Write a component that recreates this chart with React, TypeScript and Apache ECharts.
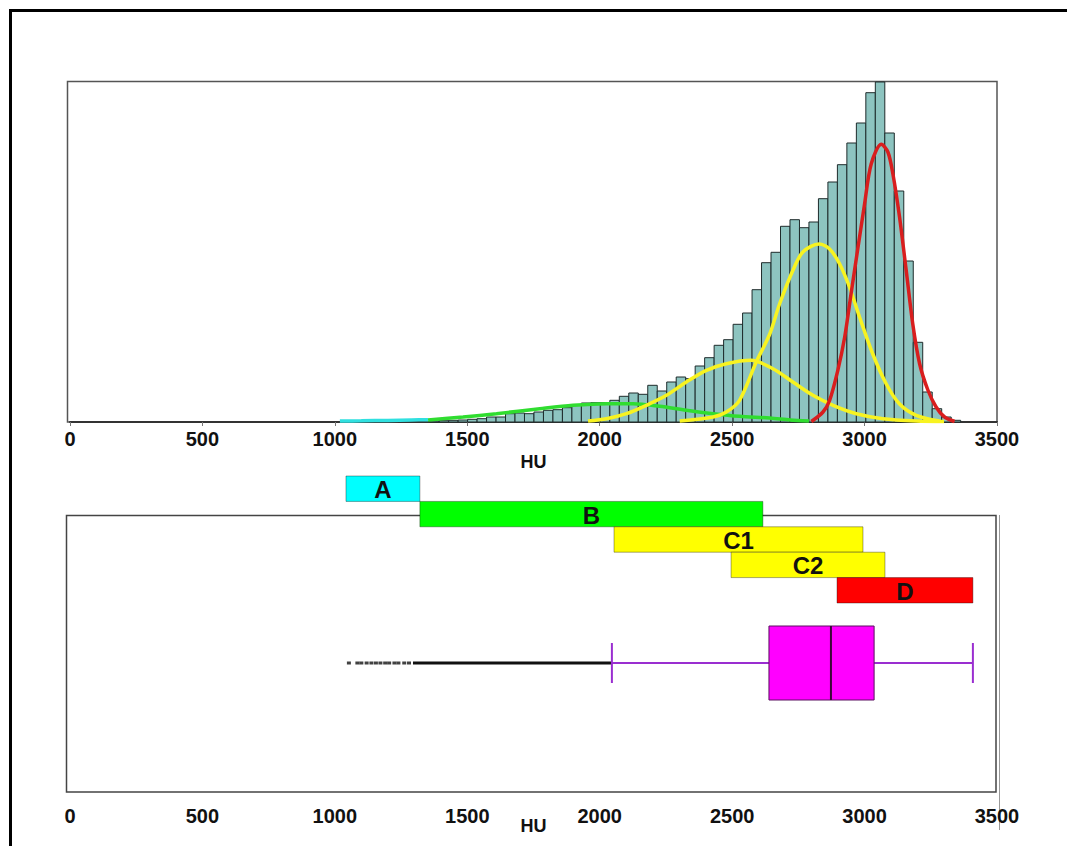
import React, { useEffect, useRef } from "react";
import * as echarts from "echarts";

// ---------- data ----------
const huTicks = [0, 500, 1000, 1500, 2000, 2500, 3000, 3500];
const histBinStart = 1358;
const histBinWidth = 35.8;
const histCounts = [
  1, 1.3, 1.7, 2, 2.7, 3.3, 5, 5, 8.3, 9, 8.3, 10,
  11.7, 12.3, 14.3, 16.7, 19, 19.3, 19.3, 21.7, 25.7, 29, 27.7, 36.7, 31, 40, 45, 43.3,
  56, 64.3, 76.7, 82.3, 97.7, 109, 132.3, 159.3, 169.7, 195.7, 202.3, 194.3, 200, 223.3,
  240, 257.3, 279, 299, 329.3, 365, 289, 231, 161, 79.7, 30, 13.3, 5, 1.7,
];
const cyanCurve = [[1019, 1], [1100, 1.2], [1200, 1.6], [1290, 2], [1352, 2.3]];
const greenCurve = [
  [1352, 2], [1484, 5], [1610, 8.3], [1774, 13.3], [1899, 16.7], [2025, 18.3],
  [2126, 18.3], [2226, 15.7], [2327, 11.7], [2428, 8.3], [2528, 5.7], [2642, 4], [2720, 2], [2790, 1],
];
const yellowC1Curve = [
  [1956, 1], [2025, 3.3], [2101, 8.3], [2176, 16.7], [2252, 26.7], [2327, 40], [2403, 51.7],
  [2478, 58.3], [2572, 61.7], [2654, 53.3], [2729, 40], [2805, 26.7], [2881, 16.7],
  [2969, 8.3], [3069, 3.3], [3195, 1], [3300, 0.5],
];
const yellowC2Curve = [
  [2302, 1], [2428, 5], [2478, 10], [2528, 21.7], [2591, 60], [2642, 88],
  [2679, 118], [2730, 152], [2767, 170], [2828, 178], [2868, 173], [2906, 158], [2943, 135],
  [2981, 105], [3031, 68], [3082, 38], [3132, 18], [3195, 6.7], [3283, 1],
];
const redCurve = [
  [2799, 0.5], [2843, 10], [2868, 21.7], [2899, 51.7], [2925, 85], [2950, 130],
  [3000, 218], [3025, 258], [3063, 277.7], [3088, 270], [3107, 248], [3132, 205],
  [3157, 152], [3182, 98], [3208, 58], [3239, 32], [3270, 15], [3302, 5], [3340, 0.5],
];
const rangeNames = ["A", "B", "C1", "C2", "D"];
const rangeStarts = [1042, 1321, 2054, 2496, 2896];
const rangeEnds = [1321, 2616, 2994, 3077, 3409];
// lower whisker, Q1, median, Q3, upper whisker
const boxStats = [2046, 2639, 2873, 3036, 3409];
const outliers = [1053, 1085, 1100, 1120, 1138, 1155, 1172, 1190, 1205, 1225, 1240, 1262, 1280];
const denseOutlierRun = [1295, 2046];

// ---------- styles ----------
const rangeColors = ["#00ffff", "#00ff00", "#ffff00", "#ffff00", "#ff0000"];
const FONT = '"Liberation Sans", Arial, sans-serif';
const labelStyle = { fontSize: 20, fontWeight: "bold", fontFamily: FONT, color: "#111" };

export default function App() {
  const ref = useRef<HTMLDivElement>(null);
  useEffect(() => {
    if (!ref.current) return;
    const chart = echarts.init(ref.current, undefined, { renderer: "svg" });

    const histData = histCounts.map((c, i) => [
      histBinStart + i * histBinWidth,
      histBinStart + (i + 1) * histBinWidth,
      c,
    ]);
    const rangeData = rangeNames.map((n, i) => [rangeStarts[i], rangeEnds[i], i, n]);

    const curve = (data: number[][], color: string) => ({
      type: "line",
      xAxisIndex: 0,
      yAxisIndex: 0,
      data,
      smooth: 0.3,
      symbol: "none",
      z: 3,
      lineStyle: { color, width: 3.5 },
    });

    const xBase = {
      type: "value",
      min: huTicks[0],
      max: huTicks[huTicks.length - 1],
      interval: huTicks[1] - huTicks[0],
      splitLine: { show: false },
    };
    const fmt = (v: number) => String(v);

    chart.setOption({
      animation: false,
      backgroundColor: "#fff",
      grid: [
        { left: 70, top: 82, width: 927, height: 340 },
        { left: 70, top: 476, width: 927, height: 127 },
        { left: 70, top: 603, width: 927, height: 120 },
        { left: 70, top: 515, width: 927, height: 277 },
      ],
      xAxis: [
        {
          ...xBase,
          gridIndex: 0,
          name: "HU",
          nameLocation: "middle",
          nameGap: 31,
          nameMoveOverlap: false,
          nameTextStyle: { ...labelStyle, fontSize: 18 },
          axisLine: { show: true, lineStyle: { color: "#333", width: 2 } },
          axisTick: { show: true, length: 4, lineStyle: { color: "#777" } },
          axisLabel: { ...labelStyle, margin: 7, formatter: fmt },
        },
        { ...xBase, gridIndex: 1, show: false },
        { ...xBase, gridIndex: 2, show: false },
        {
          ...xBase,
          gridIndex: 3,
          name: "HU",
          nameLocation: "middle",
          nameGap: 25,
          nameMoveOverlap: false,
          nameTextStyle: { ...labelStyle, fontSize: 18 },
          axisLine: { show: false },
          axisTick: { show: false },
          axisLabel: { ...labelStyle, margin: 14, formatter: fmt },
        },
      ],
      yAxis: [
        { gridIndex: 0, type: "value", min: 0, max: 340, show: false },
        { gridIndex: 1, type: "category", data: rangeNames, inverse: true, show: false },
        { gridIndex: 2, type: "category", data: ["box"], show: false },
        { gridIndex: 3, type: "value", min: 0, max: 1, show: false },
      ],
      graphic: [
        {
          type: "rect",
          z: 0,
          shape: { x: 67.5, y: 81.5, width: 929.5, height: 340.5 },
          style: { fill: "transparent", stroke: "#555", lineWidth: 1.5 },
        },
        {
          type: "rect",
          z: 0,
          shape: { x: 66.5, y: 515.5, width: 929.5, height: 276.5 },
          style: { fill: "transparent", stroke: "#444", lineWidth: 1.5 },
        },
        {
          type: "line",
          shape: { x1: 999.5, y1: 515, x2: 999.5, y2: 830 },
          style: { stroke: "#999", lineWidth: 1 },
        },
        {
          type: "line",
          shape: { x1: 10, y1: 10.5, x2: 1067, y2: 10.5 },
          style: { stroke: "#000", lineWidth: 3 },
        },
        {
          type: "line",
          shape: { x1: 10.5, y1: 9, x2: 10.5, y2: 846 },
          style: { stroke: "#000", lineWidth: 3 },
        },
      ],
      series: [
        {
          type: "custom",
          xAxisIndex: 0,
          yAxisIndex: 0,
          data: histData,
          encode: { x: [0, 1], y: 2 },
          renderItem: (params: any, api: any) => {
            const p0 = api.coord([api.value(0), api.value(2)]);
            const p1 = api.coord([api.value(1), 0]);
            const cs = params.coordSys;
            const shape = echarts.graphic.clipRectByRect(
              { x: p0[0], y: p0[1], width: p1[0] - p0[0], height: p1[1] - p0[1] },
              { x: cs.x, y: cs.y, width: cs.width, height: cs.height }
            );
            return (
              shape && {
                type: "rect",
                shape,
                style: { fill: "#8dc4c0", stroke: "#1e2b2b", lineWidth: 1 },
              }
            );
          },
        },
        curve(cyanCurve, "#30e0e0"),
        curve(greenCurve, "#30dd30"),
        curve(yellowC1Curve, "#f8f320"),
        curve(yellowC2Curve, "#f8f320"),
        curve(redCurve, "#d81e1e"),
        {
          type: "custom",
          xAxisIndex: 1,
          yAxisIndex: 1,
          data: rangeData,
          encode: { x: [0, 1], y: 2 },
          z: 5,
          renderItem: (params: any, api: any) => {
            const idx = api.value(2);
            const p0 = api.coord([api.value(0), idx]);
            const p1 = api.coord([api.value(1), idx]);
            const h = api.size([0, 1])[1];
            const name = rangeNames[idx];
            return {
              type: "group",
              children: [
                {
                  type: "rect",
                  shape: { x: p0[0], y: p0[1] - h / 2, width: p1[0] - p0[0], height: h },
                  style: { fill: rangeColors[idx], stroke: "rgba(0,0,0,0.35)", lineWidth: 1 },
                },
                {
                  type: "text",
                  style: {
                    text: name,
                    x: (p0[0] + p1[0]) / 2,
                    y: p0[1] + 1,
                    align: "center",
                    verticalAlign: "middle",
                    fill: "#111",
                    font: `bold 24px ${FONT}`,
                  },
                },
              ],
            };
          },
        },
        {
          type: "line",
          xAxisIndex: 2,
          yAxisIndex: 2,
          data: denseOutlierRun.map((v) => [v, 0]),
          symbol: "none",
          lineStyle: { color: "#111", width: 3 },
        },
        {
          type: "scatter",
          xAxisIndex: 2,
          yAxisIndex: 2,
          data: outliers.map((v) => [v, 0]),
          symbol: "rect",
          symbolSize: [4, 3],
          itemStyle: { color: "#111" },
        },
        {
          type: "custom",
          xAxisIndex: 2,
          yAxisIndex: 2,
          data: [boxStats],
          encode: { x: [0, 1, 2, 3, 4] },
          z: 4,
          renderItem: (params: any, api: any) => {
            const xs = [0, 1, 2, 3, 4].map((d) => api.coord([api.value(d), 0])[0]);
            const cy = api.coord([api.value(0), 0])[1];
            const whisk = { stroke: "#9a2ed0", lineWidth: 2 };
            return {
              type: "group",
              children: [
                { type: "line", shape: { x1: xs[0], y1: cy, x2: xs[1], y2: cy }, style: whisk },
                { type: "line", shape: { x1: xs[3], y1: cy, x2: xs[4], y2: cy }, style: whisk },
                { type: "line", shape: { x1: xs[0], y1: cy - 20, x2: xs[0], y2: cy + 20 }, style: whisk },
                { type: "line", shape: { x1: xs[4], y1: cy - 20, x2: xs[4], y2: cy + 20 }, style: whisk },
                {
                  type: "rect",
                  shape: { x: xs[1], y: cy - 37, width: xs[3] - xs[1], height: 74 },
                  style: { fill: "#ff00ff", stroke: "#5a1060", lineWidth: 1 },
                },
                {
                  type: "line",
                  shape: { x1: xs[2], y1: cy - 37, x2: xs[2], y2: cy + 37 },
                  style: { stroke: "#3a0838", lineWidth: 2 },
                },
              ],
            };
          },
        },
      ],
    });
    return () => chart.dispose();
  }, []);
  return (
    <div
      ref={ref}
      style={{ position: "fixed", left: 0, top: 0, width: 1067, height: 846, background: "#fff" }}
    />
  );
}
